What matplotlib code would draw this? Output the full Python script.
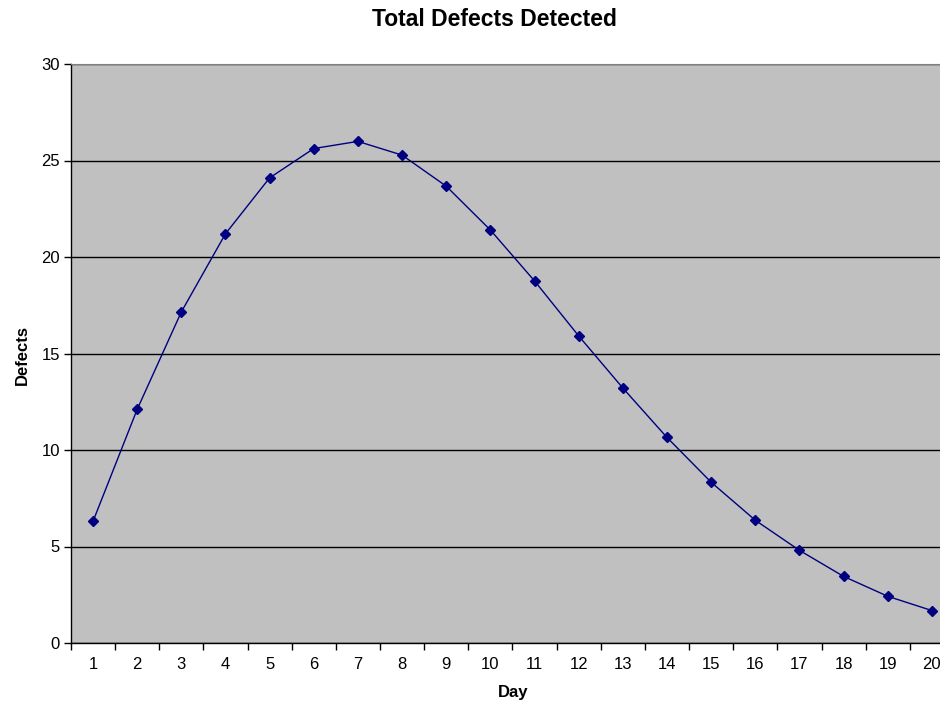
import matplotlib.pyplot as plt
import numpy as np

plt.rcParams['font.family'] = ['Liberation Sans', 'DejaVu Sans']

days = list(range(1, 21))
defects = [6.3, 12.1, 17.15, 21.2, 24.1, 25.62, 25.99, 25.28, 23.67, 21.4,
           18.76, 15.91, 13.21, 10.65, 8.33, 6.36, 4.8, 3.45, 2.42, 1.68]

fig = plt.figure(figsize=(9.4, 7.04), dpi=100)
# plot area runs slightly past the right edge, like the original
ax = fig.add_axes([70.9 / 940, 1 - 643 / 704, (954 - 70.9) / 940, (643 - 64) / 704])
ax.set_facecolor('#c0c0c0')

x = np.arange(len(days))
ax.plot(x, defects, color='#000080', lw=1.0, marker='D', ms=5, mfc='#000080', mec='#000080', zorder=3)

ax.set_xlim(-0.5, len(days) - 0.5)
ax.set_ylim(0, 30)
ax.set_yticks(range(0, 31, 5))
ax.yaxis.grid(True, color='black', lw=1.0)
ax.set_axisbelow(True)

# category labels centred, tick marks between categories
ax.set_xticks(x)
ax.set_xticklabels([str(d) for d in days])
ax.tick_params(axis='x', length=0, pad=10, labelsize=12)
ax.set_xticks(np.arange(-0.5, len(days), 1), minor=True)
ax.tick_params(axis='x', which='minor', length=5, width=1, direction='out')
ax.tick_params(axis='y', length=5, width=1, direction='out', labelsize=12, pad=3)

for s in ['left', 'bottom']:
    ax.spines[s].set_color('black')
    ax.spines[s].set_linewidth(1.0)
ax.spines['top'].set_color('#808080')
ax.spines['right'].set_visible(False)

fig.text(513 / 940, 1 - 693 / 704, 'Day', ha='center', va='center', fontsize=12, fontweight='bold')
fig.text(22 / 940, 1 - 355 / 704, 'Defects', ha='center', va='center', rotation=90,
         fontsize=12, fontweight='bold')
fig.text(494 / 940, 1 - 20 / 704, 'Total Defects Detected', ha='center', va='center',
         fontsize=16.5, fontweight='bold')

fig.savefig('out.png', dpi=100)
